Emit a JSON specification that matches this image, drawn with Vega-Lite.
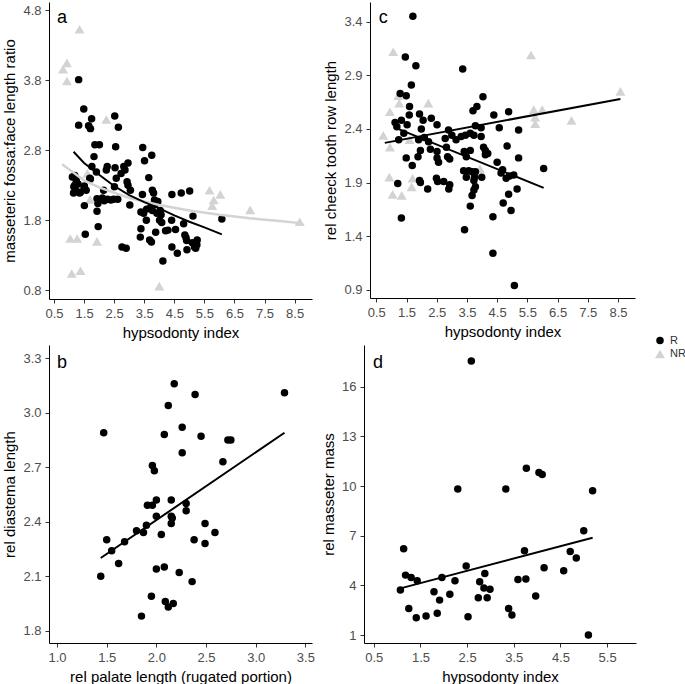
{
"$schema":"https://vega.github.io/schema/vega-lite/v6.json",
"padding":{"left":2,"top":2,"right":0,"bottom":0},
"background":"white",
"config":{"font":"Liberation Sans","view":{"stroke":null},
"axis":{"grid":false,"domainColor":"black","domainWidth":1,"tickColor":"#333333","tickSize":4,"tickWidth":1,"labelColor":"#4d4d4d","labelFontSize":13,"titleFontSize":15,"titleFontWeight":"normal","titleColor":"black","labelPadding":4,"titlePadding":5,"labelFlush":false,"labelOverlap":false,"tickCount":20},
"legend":{"labelFont":"Liberation Sans"}},
"datasets":{
"a_pts":[
{"x":1.35,"y":4.53,"g":"NR"},{"x":0.93,"y":4.05,"g":"NR"},{"x":0.80,"y":3.96,"g":"NR"},{"x":0.93,"y":3.79,"g":"NR"},{"x":2.24,"y":3.24,"g":"NR"},{"x":1.72,"y":3.16,"g":"NR"},{"x":1.61,"y":2.47,"g":"NR"},{"x":1.70,"y":2.10,"g":"NR"},{"x":1.04,"y":1.54,"g":"NR"},{"x":1.27,"y":1.54,"g":"NR"},{"x":1.93,"y":1.50,"g":"NR"},{"x":1.09,"y":1.04,"g":"NR"},{"x":1.38,"y":1.08,"g":"NR"},{"x":4.00,"y":0.86,"g":"NR"},{"x":5.67,"y":2.23,"g":"NR"},{"x":6.03,"y":2.17,"g":"NR"},{"x":5.81,"y":2.09,"g":"NR"},{"x":5.76,"y":2.01,"g":"NR"},{"x":7.02,"y":1.95,"g":"NR"},{"x":8.67,"y":1.78,"g":"NR"},
{"x":1.32,"y":3.81,"g":"R"},{"x":1.49,"y":3.39,"g":"R"},{"x":1.32,"y":3.16,"g":"R"},{"x":1.75,"y":3.25,"g":"R"},{"x":1.65,"y":3.15,"g":"R"},{"x":1.71,"y":3.11,"g":"R"},{"x":1.86,"y":2.88,"g":"R"},{"x":2.01,"y":2.88,"g":"R"},{"x":1.83,"y":2.71,"g":"R"},{"x":1.91,"y":2.49,"g":"R"},{"x":1.71,"y":2.39,"g":"R"},{"x":1.19,"y":2.44,"g":"R"},{"x":1.24,"y":2.37,"g":"R"},{"x":1.30,"y":2.32,"g":"R"},{"x":1.15,"y":2.19,"g":"R"},{"x":1.38,"y":2.20,"g":"R"},{"x":1.51,"y":2.29,"g":"R"},{"x":1.57,"y":2.23,"g":"R"},{"x":1.51,"y":2.01,"g":"R"},{"x":1.54,"y":1.60,"g":"R"},{"x":1.93,"y":2.11,"g":"R"},{"x":1.96,"y":2.04,"g":"R"},{"x":1.93,"y":1.93,"g":"R"},{"x":1.97,"y":1.71,"g":"R"},{"x":2.11,"y":2.12,"g":"R"},{"x":2.17,"y":2.08,"g":"R"},{"x":2.28,"y":2.10,"g":"R"},{"x":2.39,"y":2.09,"g":"R"},{"x":2.52,"y":3.29,"g":"R"},{"x":2.55,"y":2.85,"g":"R"},{"x":2.64,"y":3.13,"g":"R"},{"x":2.53,"y":2.55,"g":"R"},{"x":2.57,"y":2.40,"g":"R"},{"x":2.62,"y":2.10,"g":"R"},{"x":2.82,"y":2.57,"g":"R"},{"x":2.86,"y":2.52,"g":"R"},{"x":2.73,"y":2.47,"g":"R"},{"x":2.93,"y":2.35,"g":"R"},{"x":2.96,"y":2.30,"g":"R"},{"x":2.96,"y":2.62,"g":"R"},{"x":3.02,"y":2.02,"g":"R"},{"x":2.76,"y":1.42,"g":"R"},{"x":2.90,"y":1.40,"g":"R"},{"x":3.45,"y":2.84,"g":"R"},{"x":3.51,"y":2.65,"g":"R"},{"x":3.75,"y":2.73,"g":"R"},{"x":3.65,"y":2.41,"g":"R"},{"x":3.44,"y":2.17,"g":"R"},{"x":3.39,"y":1.92,"g":"R"},{"x":3.48,"y":1.90,"g":"R"},{"x":3.57,"y":1.80,"g":"R"},{"x":3.39,"y":1.68,"g":"R"},{"x":3.37,"y":1.56,"g":"R"},{"x":3.77,"y":2.23,"g":"R"},{"x":3.81,"y":2.19,"g":"R"},{"x":3.84,"y":2.09,"g":"R"},{"x":3.68,"y":1.97,"g":"R"},{"x":3.77,"y":1.94,"g":"R"},{"x":3.86,"y":2.03,"g":"R"},{"x":4.03,"y":1.94,"g":"R"},{"x":4.06,"y":1.88,"g":"R"},{"x":4.01,"y":1.80,"g":"R"},{"x":4.08,"y":1.77,"g":"R"},{"x":3.88,"y":1.63,"g":"R"},{"x":3.68,"y":1.52,"g":"R"},{"x":3.74,"y":1.49,"g":"R"},{"x":4.12,"y":1.22,"g":"R"},{"x":4.21,"y":1.65,"g":"R"},{"x":4.29,"y":1.66,"g":"R"},{"x":4.42,"y":2.17,"g":"R"},{"x":4.41,"y":1.80,"g":"R"},{"x":4.54,"y":1.67,"g":"R"},{"x":4.42,"y":1.42,"g":"R"},{"x":4.60,"y":1.33,"g":"R"},{"x":4.73,"y":2.19,"g":"R"},{"x":4.81,"y":1.75,"g":"R"},{"x":4.85,"y":1.59,"g":"R"},{"x":4.89,"y":1.55,"g":"R"},{"x":4.91,"y":1.51,"g":"R"},{"x":5.01,"y":2.22,"g":"R"},{"x":5.12,"y":1.86,"g":"R"},{"x":4.92,"y":1.38,"g":"R"},{"x":5.10,"y":1.48,"g":"R"},{"x":5.17,"y":1.42,"g":"R"},{"x":5.26,"y":1.52,"g":"R"},{"x":5.25,"y":1.45,"g":"R"},{"x":5.21,"y":1.40,"g":"R"},{"x":6.08,"y":1.82,"g":"R"},{"x":3.95,"y":2.07,"g":"R"},{"x":3.04,"y":2.23,"g":"R"},{"x":2.48,"y":2.10,"g":"R"},{"x":1.76,"y":2.57,"g":"R"},{"x":1.22,"y":2.23,"g":"R"},{"x":1.19,"y":2.30,"g":"R"},{"x":2.51,"y":2.28,"g":"R"},{"x":3.92,"y":1.90,"g":"R"},{"x":3.58,"y":1.96,"g":"R"},{"x":2.15,"y":2.23,"g":"R"},{"x":2.27,"y":2.57,"g":"R"},{"x":2.24,"y":2.52,"g":"R"},{"x":1.11,"y":2.42,"g":"R"},{"x":1.16,"y":2.28,"g":"R"},{"x":1.35,"y":2.19,"g":"R"},{"x":1.50,"y":2.26,"g":"R"},{"x":1.69,"y":2.40,"g":"R"}
],
"a_fit":[
{"x":0.77,"y":2.60,"g":"NR"},{"x":1.5,"y":2.37,"g":"NR"},{"x":2.0,"y":2.27,"g":"NR"},{"x":3.0,"y":2.12,"g":"NR"},{"x":4.0,"y":2.02,"g":"NR"},{"x":5.0,"y":1.94,"g":"NR"},{"x":6.0,"y":1.88,"g":"NR"},{"x":7.0,"y":1.83,"g":"NR"},{"x":8.0,"y":1.79,"g":"NR"},{"x":8.68,"y":1.76,"g":"NR"},
{"x":1.15,"y":2.78,"g":"R"},{"x":1.5,"y":2.62,"g":"R"},{"x":2.0,"y":2.45,"g":"R"},{"x":2.5,"y":2.29,"g":"R"},{"x":3.0,"y":2.16,"g":"R"},{"x":3.5,"y":2.06,"g":"R"},{"x":4.0,"y":1.97,"g":"R"},{"x":4.5,"y":1.87,"g":"R"},{"x":5.0,"y":1.78,"g":"R"},{"x":5.5,"y":1.70,"g":"R"},{"x":6.08,"y":1.60,"g":"R"}
],
"c_pts":[
{"x":1.06,"y":3.12,"g":"NR"},{"x":2.22,"y":2.64,"g":"NR"},{"x":0.95,"y":2.56,"g":"NR"},{"x":1.26,"y":2.64,"g":"NR"},{"x":1.23,"y":2.71,"g":"NR"},{"x":0.73,"y":2.34,"g":"NR"},{"x":0.95,"y":2.23,"g":"NR"},{"x":0.93,"y":1.95,"g":"NR"},{"x":1.04,"y":1.79,"g":"NR"},{"x":1.34,"y":1.78,"g":"NR"},{"x":1.67,"y":1.86,"g":"NR"},{"x":1.70,"y":1.94,"g":"NR"},{"x":1.60,"y":2.30,"g":"NR"},{"x":3.93,"y":2.03,"g":"NR"},{"x":5.62,"y":3.09,"g":"NR"},{"x":5.71,"y":2.58,"g":"NR"},{"x":5.99,"y":2.58,"g":"NR"},{"x":5.76,"y":2.51,"g":"NR"},{"x":5.76,"y":2.45,"g":"NR"},{"x":6.96,"y":2.48,"g":"NR"},{"x":8.58,"y":2.75,"g":"NR"},
{"x":1.71,"y":3.45,"g":"R"},{"x":1.46,"y":3.07,"g":"R"},{"x":1.81,"y":2.99,"g":"R"},{"x":1.66,"y":2.81,"g":"R"},{"x":1.29,"y":2.73,"g":"R"},{"x":1.49,"y":2.71,"g":"R"},{"x":1.60,"y":2.61,"g":"R"},{"x":1.59,"y":2.53,"g":"R"},{"x":1.93,"y":2.54,"g":"R"},{"x":3.36,"y":2.96,"g":"R"},{"x":1.12,"y":2.46,"g":"R"},{"x":1.18,"y":2.42,"g":"R"},{"x":1.33,"y":2.48,"g":"R"},{"x":1.52,"y":2.44,"g":"R"},{"x":1.24,"y":2.30,"g":"R"},{"x":1.99,"y":2.40,"g":"R"},{"x":2.05,"y":2.48,"g":"R"},{"x":2.32,"y":2.50,"g":"R"},{"x":2.51,"y":2.44,"g":"R"},{"x":1.90,"y":2.30,"g":"R"},{"x":2.09,"y":2.32,"g":"R"},{"x":2.23,"y":2.28,"g":"R"},{"x":2.29,"y":2.21,"g":"R"},{"x":1.96,"y":2.20,"g":"R"},{"x":1.88,"y":2.14,"g":"R"},{"x":1.49,"y":2.13,"g":"R"},{"x":1.69,"y":2.06,"g":"R"},{"x":2.51,"y":2.19,"g":"R"},{"x":2.51,"y":2.13,"g":"R"},{"x":2.56,"y":2.09,"g":"R"},{"x":2.78,"y":2.31,"g":"R"},{"x":2.89,"y":2.39,"g":"R"},{"x":3.00,"y":2.34,"g":"R"},{"x":2.82,"y":2.23,"g":"R"},{"x":2.86,"y":2.14,"g":"R"},{"x":2.93,"y":2.12,"g":"R"},{"x":1.93,"y":1.92,"g":"R"},{"x":1.96,"y":1.90,"g":"R"},{"x":2.20,"y":1.84,"g":"R"},{"x":2.49,"y":1.94,"g":"R"},{"x":2.53,"y":1.91,"g":"R"},{"x":2.73,"y":1.91,"g":"R"},{"x":2.93,"y":1.88,"g":"R"},{"x":2.90,"y":1.84,"g":"R"},{"x":1.21,"y":1.89,"g":"R"},{"x":1.33,"y":1.57,"g":"R"},{"x":3.31,"y":2.33,"g":"R"},{"x":3.45,"y":2.34,"g":"R"},{"x":3.61,"y":2.36,"g":"R"},{"x":3.73,"y":2.34,"g":"R"},{"x":3.41,"y":2.19,"g":"R"},{"x":3.48,"y":2.14,"g":"R"},{"x":3.61,"y":2.20,"g":"R"},{"x":3.39,"y":2.01,"g":"R"},{"x":3.48,"y":1.95,"g":"R"},{"x":3.56,"y":2.01,"g":"R"},{"x":3.67,"y":2.00,"g":"R"},{"x":3.75,"y":1.95,"g":"R"},{"x":3.73,"y":1.92,"g":"R"},{"x":3.78,"y":2.00,"g":"R"},{"x":3.78,"y":1.86,"g":"R"},{"x":3.73,"y":1.83,"g":"R"},{"x":3.67,"y":1.78,"g":"R"},{"x":3.61,"y":1.68,"g":"R"},{"x":3.42,"y":1.46,"g":"R"},{"x":3.70,"y":2.57,"g":"R"},{"x":3.83,"y":2.61,"g":"R"},{"x":4.03,"y":2.70,"g":"R"},{"x":3.78,"y":2.43,"g":"R"},{"x":3.97,"y":2.41,"g":"R"},{"x":3.97,"y":2.33,"g":"R"},{"x":4.05,"y":2.23,"g":"R"},{"x":4.11,"y":2.20,"g":"R"},{"x":4.19,"y":2.17,"g":"R"},{"x":4.11,"y":2.16,"g":"R"},{"x":3.99,"y":1.95,"g":"R"},{"x":4.39,"y":2.53,"g":"R"},{"x":4.57,"y":2.41,"g":"R"},{"x":4.50,"y":2.09,"g":"R"},{"x":4.63,"y":1.99,"g":"R"},{"x":4.68,"y":2.02,"g":"R"},{"x":4.83,"y":2.24,"g":"R"},{"x":4.88,"y":2.56,"g":"R"},{"x":5.21,"y":2.39,"g":"R"},{"x":5.21,"y":2.13,"g":"R"},{"x":4.80,"y":1.94,"g":"R"},{"x":4.91,"y":1.96,"g":"R"},{"x":5.05,"y":1.97,"g":"R"},{"x":5.16,"y":1.84,"g":"R"},{"x":4.88,"y":1.79,"g":"R"},{"x":4.70,"y":1.71,"g":"R"},{"x":4.96,"y":1.64,"g":"R"},{"x":4.36,"y":1.58,"g":"R"},{"x":4.36,"y":1.24,"g":"R"},{"x":5.07,"y":0.94,"g":"R"},{"x":6.04,"y":2.03,"g":"R"},{"x":3.14,"y":2.30,"g":"R"},{"x":1.41,"y":2.36,"g":"R"}
],
"c_fit":[
{"x":0.78,"y":2.27,"g":"NR"},{"x":8.58,"y":2.68,"g":"NR"},
{"x":1.22,"y":2.40,"g":"R"},{"x":6.04,"y":1.85,"g":"R"}
],
"b_pts":[
{"x":1.47,"y":2.89},{"x":1.44,"y":2.10},{"x":1.50,"y":2.30},{"x":1.55,"y":2.24},{"x":1.62,"y":2.17},{"x":1.68,"y":2.29},{"x":1.80,"y":2.35},{"x":1.87,"y":2.34},{"x":1.90,"y":2.38},{"x":1.85,"y":1.88},{"x":1.95,"y":1.99},{"x":1.91,"y":2.49},{"x":1.96,"y":2.49},{"x":2.00,"y":2.52},{"x":1.96,"y":2.71},{"x":1.98,"y":2.68},{"x":2.00,"y":2.43},{"x":2.00,"y":2.14},{"x":2.05,"y":2.33},{"x":2.08,"y":2.88},{"x":2.08,"y":2.15},{"x":2.09,"y":1.96},{"x":2.12,"y":1.93},{"x":2.12,"y":3.04},{"x":2.15,"y":2.52},{"x":2.15,"y":2.43},{"x":2.15,"y":2.39},{"x":2.16,"y":2.42},{"x":2.18,"y":3.16},{"x":2.17,"y":1.95},{"x":2.23,"y":2.12},{"x":2.26,"y":2.78},{"x":2.26,"y":2.92},{"x":2.30,"y":2.50},{"x":2.30,"y":2.46},{"x":2.36,"y":2.07},{"x":2.39,"y":3.10},{"x":2.38,"y":2.30},{"x":2.45,"y":2.87},{"x":2.49,"y":2.39},{"x":2.49,"y":2.28},{"x":2.59,"y":2.34},{"x":2.67,"y":2.73},{"x":2.72,"y":2.85},{"x":2.75,"y":2.85},{"x":3.29,"y":3.11}
],
"b_fit":[{"x":1.44,"y":2.20},{"x":3.29,"y":2.89}],
"d_pts":[
{"x":1.07,"y":3.72},{"x":1.14,"y":6.21},{"x":1.18,"y":4.62},{"x":1.30,"y":4.48},{"x":1.25,"y":2.61},{"x":1.43,"y":4.28},{"x":1.41,"y":2.05},{"x":1.62,"y":2.15},{"x":1.79,"y":3.62},{"x":1.86,"y":2.31},{"x":1.91,"y":3.11},{"x":1.96,"y":4.48},{"x":2.13,"y":3.46},{"x":2.24,"y":4.28},{"x":2.30,"y":9.82},{"x":2.48,"y":5.17},{"x":2.52,"y":2.11},{"x":2.59,"y":17.55},{"x":2.74,"y":3.25},{"x":2.77,"y":4.22},{"x":2.86,"y":3.84},{"x":2.88,"y":4.72},{"x":2.93,"y":3.25},{"x":2.99,"y":3.76},{"x":3.33,"y":9.82},{"x":3.39,"y":2.61},{"x":3.46,"y":2.21},{"x":3.59,"y":4.36},{"x":3.73,"y":6.09},{"x":3.77,"y":11.07},{"x":3.76,"y":4.38},{"x":3.97,"y":3.36},{"x":4.04,"y":10.82},{"x":4.11,"y":10.70},{"x":4.15,"y":5.07},{"x":4.57,"y":4.89},{"x":4.71,"y":6.05},{"x":4.84,"y":5.65},{"x":5.00,"y":7.30},{"x":5.10,"y":1.00},{"x":5.19,"y":9.72}
],
"d_fit":[{"x":1.07,"y":3.82},{"x":5.19,"y":6.88}]
},
"vconcat":[
{"hconcat":[
{"width":263,"height":297,
"layer":[
{"data":{"name":"a_pts"},"mark":{"type":"point","filled":true,"opacity":1},
"encoding":{
"x":{"field":"x","type":"quantitative","scale":{"domain":[0.334,9.077],"nice":false,"zero":false},"axis":{"values":[0.5,1.5,2.5,3.5,4.5,5.5,6.5,7.5,8.5],"tickCount":20,"format":".1f","labelOverlap":false,"title":"hypsodonty index"}},
"y":{"field":"y","type":"quantitative","scale":{"domain":[0.676,4.919],"nice":false,"zero":false},"axis":{"values":[0.8,1.8,2.8,3.8,4.8],"tickCount":20,"format":".1f","labelOverlap":false,"title":"masseteric fossa:face length ratio"}},
"color":{"field":"g","type":"nominal","scale":{"domain":["R","NR"],"range":["black","#d3d3d3"]},"legend":{"title":null,"orient":"none","legendX":605,"legendY":333,"labelFontSize":11,"labelColor":"#333333","symbolSize":60,"rowPadding":2,"labelOffset":4,"padding":0}},
"shape":{"field":"g","type":"nominal","scale":{"domain":["R","NR"],"range":["circle","triangle-up"]},"legend":{"title":null,"orient":"none","legendX":605,"legendY":333,"labelFontSize":11,"labelColor":"#333333","symbolSize":60,"rowPadding":2,"labelOffset":4,"padding":0}},
"size":{"field":"g","type":"ordinal","scale":{"domain":["R","NR"],"range":[56,100]},"legend":null}}},
{"data":{"name":"a_fit"},"transform":[{"filter":"datum.g === 'NR'"}],"mark":{"type":"line","color":"#d3d3d3","strokeWidth":2.5},
"encoding":{"x":{"field":"x","type":"quantitative"},"y":{"field":"y","type":"quantitative"}}},
{"data":{"name":"a_fit"},"transform":[{"filter":"datum.g === 'R'"}],"mark":{"type":"line","color":"black","strokeWidth":2},
"encoding":{"x":{"field":"x","type":"quantitative"},"y":{"field":"y","type":"quantitative"}}},
{"data":{"values":[{"x":0.6,"y":4.62,"t":"a"}]},"mark":{"type":"text","align":"left","baseline":"alphabetic","fontSize":18,"color":"black"},
"encoding":{"x":{"field":"x","type":"quantitative"},"y":{"field":"y","type":"quantitative"},"text":{"field":"t"}}}
]},
{"width":265,"height":296,
"layer":[
{"data":{"name":"c_pts"},"mark":{"type":"point","filled":true,"opacity":1},
"encoding":{
"x":{"field":"x","type":"quantitative","scale":{"domain":[0.291,9.063],"nice":false,"zero":false},"axis":{"values":[0.5,1.5,2.5,3.5,4.5,5.5,6.5,7.5,8.5],"tickCount":20,"format":".1f","labelOverlap":false,"title":"hypsodonty index"}},
"y":{"field":"y","type":"quantitative","scale":{"domain":[0.823,3.584],"nice":false,"zero":false},"axis":{"values":[0.9,1.4,1.9,2.4,2.9,3.4],"tickCount":20,"format":".1f","labelOverlap":false,"title":"rel cheeck tooth row length"}},
"color":{"field":"g","type":"nominal","scale":{"domain":["R","NR"],"range":["black","#d3d3d3"]},"legend":{"title":null,"orient":"none","legendX":605,"legendY":333,"labelFontSize":11,"labelColor":"#333333","symbolSize":60,"rowPadding":2,"labelOffset":4,"padding":0}},
"shape":{"field":"g","type":"nominal","scale":{"domain":["R","NR"],"range":["circle","triangle-up"]},"legend":{"title":null,"orient":"none","legendX":605,"legendY":333,"labelFontSize":11,"labelColor":"#333333","symbolSize":60,"rowPadding":2,"labelOffset":4,"padding":0}},
"size":{"field":"g","type":"ordinal","scale":{"domain":["R","NR"],"range":[56,100]},"legend":null}}},
{"data":{"name":"c_fit"},"transform":[{"filter":"datum.g === 'NR'"}],"mark":{"type":"line","color":"black","strokeWidth":2},
"encoding":{"x":{"field":"x","type":"quantitative"},"y":{"field":"y","type":"quantitative"}}},
{"data":{"name":"c_fit"},"transform":[{"filter":"datum.g === 'R'"}],"mark":{"type":"line","color":"black","strokeWidth":2},
"encoding":{"x":{"field":"x","type":"quantitative"},"y":{"field":"y","type":"quantitative"}}},
{"data":{"values":[{"x":0.58,"y":3.39,"t":"c"}]},"mark":{"type":"text","align":"left","baseline":"alphabetic","fontSize":18,"color":"black"},
"encoding":{"x":{"field":"x","type":"quantitative"},"y":{"field":"y","type":"quantitative"},"text":{"field":"t"}}}
]}
],"spacing":58,"bounds":"flush"},
{"hconcat":[
{"width":263,"height":298,
"layer":[
{"data":{"name":"b_pts"},"mark":{"type":"circle","size":56,"color":"black","opacity":1},
"encoding":{
"x":{"field":"x","type":"quantitative","scale":{"domain":[0.919,3.567],"nice":false,"zero":false},"axis":{"values":[1.0,1.5,2.0,2.5,3.0,3.5],"tickCount":20,"format":".1f","labelOverlap":false,"title":"rel palate length (rugated portion)"}},
"y":{"field":"y","type":"quantitative","scale":{"domain":[1.732,3.373],"nice":false,"zero":false},"axis":{"values":[1.8,2.1,2.4,2.7,3.0,3.3],"tickCount":20,"format":".1f","labelOverlap":false,"title":"rel diastema length"}}}},
{"data":{"name":"b_fit"},"mark":{"type":"line","color":"black","strokeWidth":2},
"encoding":{"x":{"field":"x","type":"quantitative"},"y":{"field":"y","type":"quantitative"}}},
{"data":{"values":[{"x":1.0,"y":3.247,"t":"b"}]},"mark":{"type":"text","align":"left","baseline":"alphabetic","fontSize":18,"color":"black"},
"encoding":{"x":{"field":"x","type":"quantitative"},"y":{"field":"y","type":"quantitative"},"text":{"field":"t"}}}
]},
{"width":272,"height":298,
"layer":[
{"data":{"name":"d_pts"},"mark":{"type":"circle","size":56,"color":"black","opacity":1},
"encoding":{
"x":{"field":"x","type":"quantitative","scale":{"domain":[0.29,6.12],"nice":false,"zero":false},"axis":{"values":[0.5,1.5,2.5,3.5,4.5,5.5],"tickCount":20,"format":".1f","labelOverlap":false,"title":"hypsodonty index"}},
"y":{"field":"y","type":"quantitative","scale":{"domain":[0.52,18.52],"nice":false,"zero":false},"axis":{"values":[1,4,7,10,13,16],"tickCount":20,"format":"d","labelOverlap":false,"title":"rel masseter mass"}}}},
{"data":{"name":"d_fit"},"mark":{"type":"line","color":"black","strokeWidth":2},
"encoding":{"x":{"field":"x","type":"quantitative"},"y":{"field":"y","type":"quantitative"}}},
{"data":{"values":[{"x":0.485,"y":17.12,"t":"d"}]},"mark":{"type":"text","align":"left","baseline":"alphabetic","fontSize":18,"color":"black"},
"encoding":{"x":{"field":"x","type":"quantitative"},"y":{"field":"y","type":"quantitative"},"text":{"field":"t"}}}
]}
],"spacing":52,"bounds":"flush"}
],
"spacing":5,"bounds":"full"
}
